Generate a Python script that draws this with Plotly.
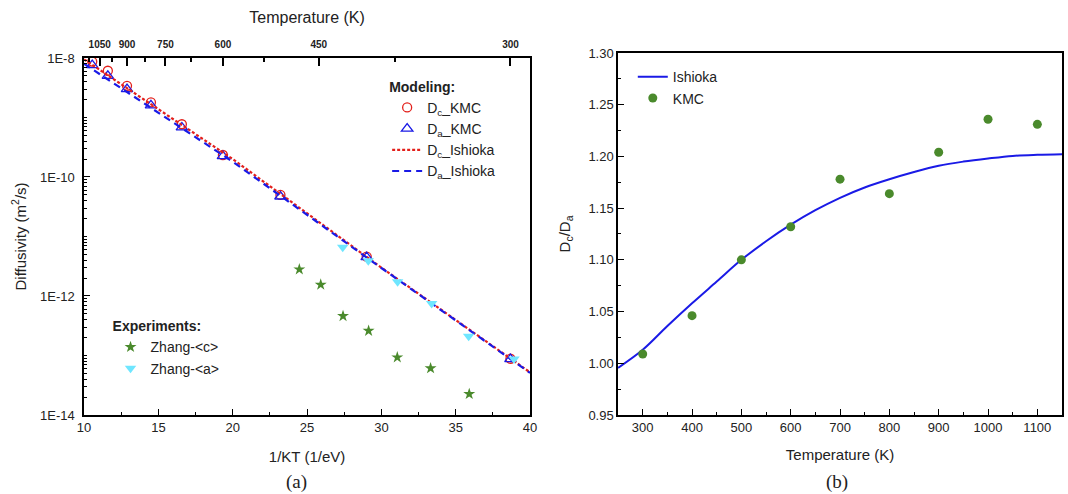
import plotly.graph_objects as go

# ---------------- Panel (a) data ----------------
kmc_x = [10.55, 11.60, 12.89, 14.50, 16.58, 19.34, 23.21, 29.01, 38.68]          # 1/kT (1/eV)
dc_kmc = [8.7e-9, 6.1e-9, 3.4e-9, 1.8e-9, 7.7e-10, 2.34e-10, 5.0e-11, 4.6e-12, 8.8e-14]
da_kmc = [7.6e-9, 5.0e-9, 3.0e-9, 1.6e-9, 6.8e-10, 2.25e-10, 4.7e-11, 4.5e-12, 8.7e-14]

ish_x = [10, 20, 30, 40]
dc_ish = [9.5e-9, 2.0e-10, 3.0e-12, 5.2e-14]
da_ish = [8.0e-9, 1.81e-10, 2.95e-12, 5.1e-14]

zc_x = [24.48, 25.92, 27.42, 29.14, 31.07, 33.31, 35.91]
zc_y = [2.8e-12, 1.55e-12, 4.6e-13, 2.6e-13, 9.3e-14, 6.1e-14, 2.25e-14]
za_x = [27.40, 29.12, 31.09, 33.38, 35.87, 38.92]
za_y = [6.6e-12, 3.9e-12, 1.74e-12, 7.5e-13, 2.1e-13, 8.7e-14]

y_tickvals = [1e-8, 1e-10, 1e-12, 1e-14]
y_ticktext = ["1E-8", "1E-10", "1E-12", "1E-14"]

top_T_major = [1050, 900, 750, 600, 450, 300]
top_T_minor = [1125, 975, 825, 675, 525, 375]
k_B = 8.617e-5

# ---------------- Panel (b) data ----------------
ratio_T = [250, 300, 350, 400, 450, 500, 550, 600, 650, 700, 750, 800, 850, 900, 950, 1000, 1050, 1100, 1150]
ratio_ish = [0.9955, 1.013, 1.036, 1.058, 1.079, 1.100, 1.118, 1.134, 1.148, 1.160, 1.170, 1.178,
             1.185, 1.191, 1.195, 1.198, 1.2005, 1.2015, 1.202]
kmc_T = [300, 400, 500, 600, 700, 800, 900, 1000, 1100]
kmc_ratio = [1.009, 1.046, 1.100, 1.132, 1.178, 1.164, 1.204, 1.236, 1.231]

FONT = "Liberation Sans, Arial, sans-serif"
RED = "#e3201b"
BLUE = "#1a1ae6"
GREEN = "#4a8a2c"
CYAN = "#6fe6ff"

fig = go.Figure()

# Modeling legend
fig.add_trace(go.Scatter(x=kmc_x, y=dc_kmc, mode="markers", name="D<sub>c</sub>_KMC",
                         marker=dict(symbol="circle-open", size=9, color=RED, line=dict(width=1.3)),
                         xaxis="x", yaxis="y", legend="legend"))
fig.add_trace(go.Scatter(x=kmc_x, y=da_kmc, mode="markers", name="D<sub>a</sub>_KMC",
                         marker=dict(symbol="triangle-up-open", size=10, color=BLUE, line=dict(width=1.3)),
                         xaxis="x", yaxis="y", legend="legend"))
fig.add_trace(go.Scatter(x=ish_x, y=dc_ish, mode="lines", name="D<sub>c</sub>_Ishioka",
                         line=dict(color=RED, width=2.2, dash="3px,2px"),
                         xaxis="x", yaxis="y", legend="legend"))
fig.add_trace(go.Scatter(x=ish_x, y=da_ish, mode="lines", name="D<sub>a</sub>_Ishioka",
                         line=dict(color=BLUE, width=2.2, dash="7px,5px"),
                         xaxis="x", yaxis="y", legend="legend"))
# Experiments legend
fig.add_trace(go.Scatter(x=zc_x, y=zc_y, mode="markers", name="Zhang-&lt;c&gt;",
                         marker=dict(symbol="star", size=9, color=GREEN),
                         xaxis="x", yaxis="y", legend="legend2"))
fig.add_trace(go.Scatter(x=za_x, y=za_y, mode="markers", name="Zhang-&lt;a&gt;",
                         marker=dict(symbol="triangle-down", size=10, color=CYAN),
                         xaxis="x", yaxis="y", legend="legend2"))
# empty trace so the top (temperature) axis subplot exists
fig.add_trace(go.Scatter(x=[], y=[], xaxis="x3", yaxis="y", showlegend=False, hoverinfo="skip"))

# Panel (b)
fig.add_trace(go.Scatter(x=ratio_T, y=ratio_ish, mode="lines", name="Ishioka",
                         line=dict(color=BLUE, width=2, shape="spline", smoothing=1.0),
                         xaxis="x2", yaxis="y2", legend="legend3"))
fig.add_trace(go.Scatter(x=kmc_T, y=kmc_ratio, mode="markers", name="KMC",
                         marker=dict(symbol="circle", size=9, color=GREEN),
                         xaxis="x2", yaxis="y2", legend="legend3"))

axis_common = dict(showline=True, linecolor="black", linewidth=1.5, ticks="inside",
                   tickcolor="black", ticklen=6, tickwidth=1.2, showgrid=False, zeroline=False,
                   automargin=False,
                   tickfont=dict(family=FONT, size=13, color="#222"))

minor_y = []
for e in range(-14, -8):
    for d in range(1, 10):
        if d == 1 and e % 2 == 0:
            continue
        minor_y.append(d * 10.0 ** e)

TITLE_FONT = dict(family=FONT, size=15, color="#222")
SERIF = dict(family="Liberation Serif, Times New Roman, serif", size=19, color="#222")

fig.update_layout(
    width=1068, height=494,
    margin=dict(l=0, r=0, t=0, b=0),
    paper_bgcolor="white", plot_bgcolor="white",
    font=dict(family=FONT, size=13, color="#222"),
    xaxis=dict(domain=[0.0787, 0.4963], range=[10, 40], tickvals=[10, 15, 20, 25, 30, 35, 40],
               minor=dict(ticks="inside", ticklen=3, tickcolor="black", tickvals=[12.5, 17.5, 22.5, 27.5, 32.5, 37.5]),
               anchor="y", mirror=False,
               title=dict(text="1/KT (1/eV)", font=TITLE_FONT, standoff=17),
               **axis_common),
    yaxis=dict(domain=[0.16, 0.8826], type="log", range=[-14, -8], tickvals=y_tickvals, ticktext=y_ticktext,
               minor=dict(ticks="inside", ticklen=3, tickcolor="black", tickvals=minor_y),
               anchor="x", mirror=True, ticklabelstandoff=5,
               title=dict(text="Diffusivity (m<sup>2</sup>/s)", font=TITLE_FONT, standoff=10),
               **axis_common),
    xaxis3=dict(overlaying="x", side="top", anchor="y", range=[10, 40],
                tickvals=[1 / (k_B * t) for t in top_T_major], ticktext=[str(t) for t in top_T_major],
                minor=dict(ticks="inside", ticklen=4, tickcolor="black",
                           tickvals=[1 / (k_B * t) for t in top_T_minor]),
                showline=True, linecolor="black", linewidth=1.5, ticks="inside", tickcolor="black",
                ticklen=8, tickwidth=1.5, showgrid=False, zeroline=False, automargin=False,
                ticklabelstandoff=4,
                tickfont=dict(family=FONT, size=10, color="#222", weight="bold"),
                title=dict(text="Temperature (K)", font=dict(family=FONT, size=16, color="#222"), standoff=12)),
    xaxis2=dict(domain=[0.5787, 0.9944], range=[250, 1150], tickvals=list(range(300, 1101, 100)),
                minor=dict(ticks="inside", ticklen=3, tickcolor="black", tickvals=list(range(350, 1101, 100))),
                anchor="y2", mirror=True,
                title=dict(text="Temperature (K)", font=TITLE_FONT, standoff=15),
                **axis_common),
    yaxis2=dict(domain=[0.16, 0.8927], range=[0.95, 1.30], dtick=0.05, tick0=0.95, tickformat=".2f",
                minor=dict(ticks="inside", ticklen=3, tickcolor="black", dtick=0.025, tick0=0.95),
                anchor="x2", mirror=True,
                title=dict(text="D<sub>c</sub>/D<sub>a</sub>", font=TITLE_FONT, standoff=14),
                **axis_common),
    legend=dict(x=0.3625, y=0.851, xanchor="left", yanchor="top", bgcolor="rgba(0,0,0,0)",
                title=dict(text="<b>Modeling:</b>", font=dict(family=FONT, size=14, color="#222")),
                font=dict(family=FONT, size=14, color="#222"), tracegroupgap=0, itemwidth=30),
    legend2=dict(x=0.1035, y=0.366, xanchor="left", yanchor="top", bgcolor="rgba(0,0,0,0)",
                 title=dict(text="<b>Experiments:</b>", font=dict(family=FONT, size=14, color="#222")),
                 font=dict(family=FONT, size=14, color="#222"), tracegroupgap=0, itemwidth=30),
    legend3=dict(x=0.5925, y=0.876, xanchor="left", yanchor="top", bgcolor="rgba(0,0,0,0)",
                 font=dict(family=FONT, size=14, color="#222"), tracegroupgap=0, itemwidth=30),
    annotations=[
        dict(text="(a)", x=0.278, y=1 - 482 / 494, xref="paper", yref="paper", xanchor="center", yanchor="middle",
             showarrow=False, font=SERIF),
        dict(text="(b)", x=0.784, y=1 - 482 / 494, xref="paper", yref="paper", xanchor="center", yanchor="middle",
             showarrow=False, font=SERIF),
    ],
)

fig.write_html("out.html", config={"displayModeBar": False},
               post_script="document.body.style.margin='0';document.body.style.overflow='hidden';")
